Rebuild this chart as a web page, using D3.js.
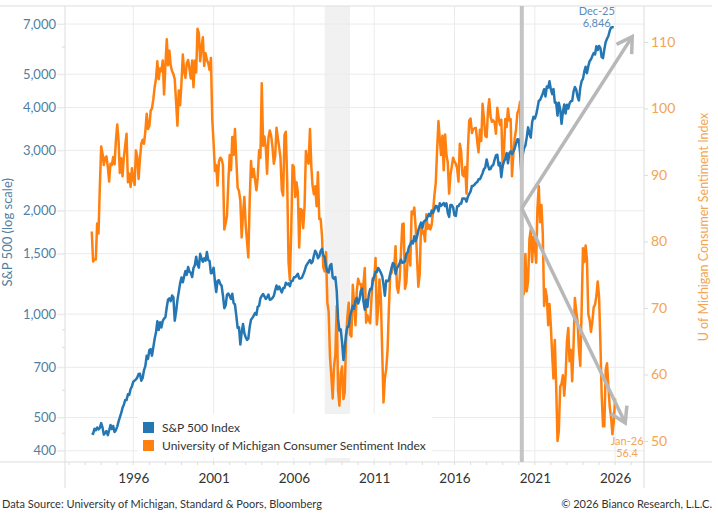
<!DOCTYPE html>
<html>
<head>
<meta charset="utf-8">
<script src="https://cdn.jsdelivr.net/npm/d3@7"></script>
<style>
    body { margin: 0; background: #fff; }
    svg { display: block; font-family: Lato, "Open Sans", sans-serif; }
</style>
</head>
<body>
<svg id="chart" width="718" height="517"></svg>
<script>
// month-end S&P 500 closes, first value is Jun-1993
var spxStart = new Date(1993, 5, 1);
var spxClose = [
    450.5, 448.1, 463.6, 458.9, 467.8, 461.8, 466.5,
    481.6, 467.1, 445.8, 450.9, 456.5, 444.3, 458.3, 475.5, 462.7, 472.4, 453.7, 459.3,
    470.4, 487.4, 500.7, 514.7, 533.4, 544.8, 562.1, 561.9, 584.4, 581.5, 605.4, 615.9,
    636.0, 640.4, 645.5, 654.2, 669.1, 670.6, 639.9, 652.0, 687.3, 705.3, 757.0, 740.7,
    786.2, 790.8, 757.1, 801.3, 848.3, 885.1, 954.3, 899.5, 947.3, 914.6, 955.4, 970.4,
    980.3, 1049.3, 1101.8, 1111.8, 1090.8, 1133.8, 1120.7, 957.3, 1017.0, 1098.7, 1163.6, 1229.2,
    1279.6, 1238.3, 1286.4, 1335.2, 1301.8, 1372.7, 1328.7, 1320.4, 1282.7, 1362.9, 1388.9, 1469.3,
    1394.5, 1366.4, 1498.6, 1452.4, 1420.6, 1454.6, 1430.8, 1517.7, 1436.5, 1429.4, 1315.2, 1320.3,
    1366.0, 1239.9, 1160.3, 1249.5, 1255.8, 1224.4, 1211.2, 1133.6, 1040.9, 1059.8, 1139.5, 1148.1,
    1130.2, 1106.7, 1147.4, 1076.9, 1067.1, 989.8, 911.6, 916.1, 815.3, 885.8, 936.3, 879.8,
    855.7, 841.2, 848.2, 916.9, 963.6, 974.5, 990.3, 1008.0, 996.0, 1050.7, 1058.2, 1111.9,
    1131.1, 1144.9, 1126.2, 1107.3, 1120.7, 1140.8, 1101.7, 1104.2, 1114.6, 1130.2, 1173.8, 1211.9,
    1181.3, 1203.6, 1180.6, 1156.9, 1191.5, 1191.3, 1234.2, 1220.3, 1228.8, 1207.0, 1249.5, 1248.3,
    1280.1, 1280.7, 1294.9, 1310.6, 1270.1, 1270.2, 1276.7, 1303.8, 1335.9, 1377.9, 1400.6, 1418.3,
    1438.2, 1406.8, 1420.9, 1482.4, 1530.6, 1503.4, 1455.3, 1474.0, 1526.8, 1549.4, 1481.1, 1468.4,
    1378.6, 1330.6, 1322.7, 1385.6, 1400.4, 1280.0, 1267.4, 1282.8, 1166.4, 968.8, 896.2, 903.3,
    825.9, 735.1, 797.9, 872.8, 919.1, 919.3, 987.5, 1020.6, 1057.1, 1036.2, 1095.6, 1115.1,
    1073.9, 1104.5, 1169.4, 1186.7, 1089.4, 1030.7, 1101.6, 1049.3, 1141.2, 1183.3, 1180.6, 1257.6,
    1286.1, 1327.2, 1325.8, 1363.6, 1345.2, 1320.6, 1292.3, 1218.9, 1131.4, 1253.3, 1247.0, 1257.6,
    1312.4, 1365.7, 1408.5, 1397.9, 1310.3, 1362.2, 1379.3, 1406.6, 1440.7, 1412.2, 1416.2, 1426.2,
    1498.1, 1514.7, 1569.2, 1597.6, 1630.7, 1606.3, 1685.7, 1633.0, 1681.6, 1756.5, 1805.8, 1848.4,
    1782.6, 1859.5, 1872.3, 1884.0, 1923.6, 1960.2, 1930.7, 2003.4, 1972.3, 2018.1, 2067.6, 2058.9,
    1995.0, 2104.5, 2067.9, 2085.5, 2107.4, 2063.1, 2103.8, 1972.2, 1920.0, 2079.4, 2080.4, 2043.9,
    1940.2, 1932.2, 2059.7, 2065.3, 2097.0, 2098.9, 2173.6, 2171.0, 2168.3, 2126.2, 2198.8, 2238.8,
    2278.9, 2363.6, 2362.7, 2384.2, 2411.8, 2423.4, 2470.3, 2471.7, 2519.4, 2575.3, 2647.6, 2673.6,
    2823.8, 2713.8, 2640.9, 2648.1, 2705.3, 2718.4, 2816.3, 2901.5, 2914.0, 2711.7, 2760.2, 2506.9,
    2704.1, 2784.5, 2834.4, 2945.8, 2752.1, 2941.8, 2980.4, 2926.5, 2976.7, 3037.6, 3141.0, 3230.8,
    3225.5, 2954.2, 2584.6, 2912.4, 3044.3, 3100.3, 3271.1, 3500.3, 3363.0, 3270.0, 3621.6, 3756.1,
    3714.2, 3811.2, 3972.9, 4181.2, 4204.1, 4297.5, 4395.3, 4522.7, 4307.5, 4605.4, 4567.0, 4766.2,
    4515.6, 4373.9, 4530.4, 4131.9, 4132.2, 3785.4, 4130.3, 3955.0, 3585.6, 3872.0, 4080.1, 3839.5,
    4076.6, 3970.2, 4109.3, 4169.5, 4179.8, 4450.4, 4589.0, 4507.7, 4288.1, 4193.8, 4567.8, 4769.8,
    4845.7, 5096.3, 5254.4, 5035.7, 5277.5, 5460.5, 5522.3, 5648.4, 5762.5, 5705.5, 6032.4, 5881.6,
    6040.5, 5954.5, 5611.9, 5569.1, 5911.7, 6205.0, 6339.4, 6460.3, 6688.5, 6840.2, 6849.1, 6846.0
];

// University of Michigan consumer sentiment, first value is Jun-1993
var umichStart = new Date(1993, 5, 1);
var umichSentiment = [
    81.5, 77.0, 77.3, 77.3, 82.7, 81.2, 88.2,
    94.3, 93.2, 91.5, 92.6, 92.8, 91.2, 89.0, 91.7, 91.5, 92.7, 91.6, 95.1,
    97.6, 95.1, 90.3, 92.5, 89.8, 92.7, 94.4, 96.2, 88.9, 90.2, 88.2, 91.0,
    89.3, 88.5, 93.7, 92.7, 89.4, 92.4, 94.7, 95.3, 94.7, 96.5, 99.2, 96.9,
    97.4, 99.7, 100.0, 101.4, 103.2, 104.5, 107.1, 104.4, 106.0, 105.6, 107.2, 102.1,
    106.6, 110.4, 106.5, 108.7, 106.5, 105.6, 105.2, 104.4, 100.9, 97.4, 102.7, 100.5,
    103.9, 108.1, 105.7, 104.6, 106.8, 107.3, 106.0, 104.5, 107.2, 103.2, 107.2, 105.4,
    112.0, 111.3, 107.1, 109.2, 110.7, 106.4, 108.3, 107.3, 106.8, 105.8, 107.6, 98.4,
    94.7, 90.6, 91.5, 88.4, 92.0, 92.6, 92.4, 91.5, 81.8, 82.7, 83.9, 88.8,
    93.0, 90.7, 95.7, 93.0, 96.9, 92.4, 88.1, 87.6, 86.1, 80.6, 84.2, 86.7,
    82.4, 79.9, 77.6, 86.0, 92.1, 89.7, 90.9, 89.3, 87.7, 89.6, 93.7, 92.6,
    103.8, 94.4, 95.8, 94.2, 90.2, 95.6, 96.7, 95.9, 94.2, 91.7, 92.8, 97.1,
    95.5, 94.1, 92.6, 87.7, 86.9, 96.0, 96.5, 89.1, 76.9, 74.2, 81.6, 91.5,
    91.2, 86.7, 88.9, 87.4, 79.1, 84.9, 84.7, 82.0, 85.4, 93.6, 92.1, 91.7,
    96.9, 91.3, 88.4, 87.1, 88.3, 85.3, 90.4, 83.4, 83.4, 80.9, 76.1, 75.5,
    78.4, 70.8, 69.5, 62.6, 59.8, 56.4, 61.2, 63.0, 70.3, 57.6, 55.3, 60.1,
    61.2, 56.3, 57.3, 65.1, 68.7, 70.8, 66.0, 65.7, 73.5, 70.6, 67.4, 72.5,
    74.4, 73.6, 73.6, 72.2, 73.6, 76.0, 67.8, 68.9, 68.2, 67.7, 71.6, 74.5,
    74.2, 77.5, 67.5, 69.8, 74.3, 71.5, 63.7, 55.8, 59.5, 60.8, 63.7, 69.9,
    75.0, 75.3, 76.2, 76.4, 79.3, 73.2, 72.3, 74.3, 78.3, 82.6, 82.7, 72.9,
    73.8, 77.6, 78.6, 76.4, 84.5, 84.1, 85.1, 82.1, 77.5, 73.2, 75.1, 82.5,
    81.2, 81.6, 80.0, 84.1, 81.9, 82.5, 81.8, 82.5, 84.6, 86.9, 88.8, 93.6,
    98.1, 95.4, 93.0, 95.9, 90.7, 96.1, 93.1, 91.9, 87.2, 90.0, 91.3, 92.6,
    92.0, 91.7, 91.0, 89.0, 94.7, 93.5, 90.0, 89.8, 91.2, 87.2, 93.8, 98.2,
    98.5, 96.3, 96.9, 97.0, 97.1, 95.0, 93.4, 96.8, 95.1, 100.7, 98.5, 95.9,
    95.7, 99.7, 101.4, 98.8, 98.0, 98.2, 97.9, 96.2, 100.1, 98.6, 97.5, 98.3,
    91.2, 93.8, 98.4, 97.2, 100.0, 98.2, 98.4, 89.8, 93.2, 95.5, 96.8, 99.3,
    99.8, 101.0, 89.1, 71.8, 72.3, 78.1, 72.5, 74.1, 80.4, 81.8, 76.9, 80.7,
    79.0, 76.8, 84.9, 88.3, 82.9, 85.5, 81.2, 70.3, 72.8, 71.7, 67.4, 70.6,
    67.2, 62.8, 59.4, 65.2, 58.4, 50.0, 51.5, 58.2, 58.6, 59.9, 56.8, 59.7,
    64.9, 67.0, 62.0, 63.7, 59.0, 64.4, 71.5, 69.5, 67.9, 63.8, 61.3, 69.7,
    79.0, 76.9, 79.4, 77.2, 69.1, 68.2, 66.4, 67.9, 70.1, 70.5, 71.8, 74.0,
    71.7, 64.7, 57.0, 52.2, 52.2, 60.7, 61.7, 58.2, 55.1, 53.6, 51.0, 52.9,
    56.4
];

var spxTicks = [400, 500, 700, 1000, 1500, 2000, 3000, 4000, 5000, 7000];
var spxMinorTicks = [450, 600, 800, 900, 6000];
var umichTicks = [50, 60, 70, 80, 90, 100, 110];
var yearTicks = [1996, 2001, 2006, 2011, 2016, 2021, 2026];

var recession = [new Date(2007, 11, 1), new Date(2009, 5, 30)];
var covidDate = new Date(2020, 2, 11);
var arrowFrom = { date: new Date(2020, 2, 11), value: 85 };
var arrowTo = [
    { date: new Date(2027, 0, 25), value: 110.8 },
    { date: new Date(2026, 7, 20), value: 52.7 }
];
var lastSpx = { lines: ["Dec-25", "6,846"] };
var lastUmich = { lines: ["Jan-26", "56.4"] };

var BLUE = "#2477b3";
var ORANGE = "#ff800e";
var BLUE_TEXT = "#4f7fa3";
var ORANGE_TEXT = "#f2a552";
var GRID = "#ebebeb";
var FRAME = "#dddddd";
var ARROW = "#b8b8b8";

var plot = { left: 65, right: 644, top: 6, bottom: 462 };

var svg = d3.select("#chart");

function monthSeries(start, values) {
    return values.map(function(v, i) {
        return { date: d3.timeMonth.offset(start, i), value: v };
    });
}

var spx = monthSeries(spxStart, spxClose);
var umich = monthSeries(umichStart, umichSentiment);

var x = d3.scaleTime()
    .domain([new Date(1991, 9, 1), new Date(2027, 9, 20)])
    .range([plot.left, plot.right]);
var yL = d3.scaleLog().domain([371, 7900]).range([plot.bottom, plot.top]);
var yR = d3.scaleLinear().domain([46.84, 115.41]).range([plot.bottom, plot.top]);

function yearDate(y) { return new Date(y, 0, 1); }

svg.append("defs").append("clipPath").attr("id", "clip")
    .append("rect")
    .attr("x", plot.left).attr("y", plot.top)
    .attr("width", plot.right - plot.left).attr("height", plot.bottom - plot.top);

// recession band
svg.append("rect")
    .attr("x", x(recession[0]))
    .attr("y", plot.top)
    .attr("width", x(recession[1]) - x(recession[0]))
    .attr("height", plot.bottom - plot.top)
    .attr("fill", "#f1f1f1");

// horizontal grid from the log axis
svg.append("g")
    .selectAll("line").data(spxTicks).join("line")
    .attr("x1", plot.left - 8).attr("x2", plot.right)
    .attr("y1", function(d) { return yL(d); })
    .attr("y2", function(d) { return yL(d); })
    .attr("stroke", GRID);

// vertical grid at labelled years
svg.append("g")
    .selectAll("line").data(yearTicks).join("line")
    .attr("x1", function(d) { return x(yearDate(d)); })
    .attr("x2", function(d) { return x(yearDate(d)); })
    .attr("y1", plot.top).attr("y2", plot.bottom)
    .attr("stroke", GRID);

// frame lines
svg.append("line").attr("x1", 0).attr("x2", 712).attr("y1", plot.top).attr("y2", plot.top).attr("stroke", FRAME);
svg.append("line").attr("x1", 0).attr("x2", 712).attr("y1", plot.bottom).attr("y2", plot.bottom).attr("stroke", FRAME);
svg.append("line").attr("x1", plot.left).attr("x2", plot.left).attr("y1", plot.top).attr("y2", 488).attr("stroke", FRAME);
svg.append("line").attr("x1", plot.right).attr("x2", plot.right).attr("y1", plot.top).attr("y2", 488).attr("stroke", FRAME);

// left axis labels
var left = svg.append("g").attr("transform", "translate(" + plot.left + ",0)")
    .call(d3.axisLeft(yL).tickValues(spxTicks).tickFormat(d3.format(",")).tickSize(8).tickPadding(1));
left.select(".domain").remove();
left.selectAll(".tick line").attr("stroke", GRID);
left.selectAll("text").attr("fill", BLUE_TEXT).style("font-size", "13px").style("font-family", "Lato");

svg.append("g")
    .selectAll("line").data(spxMinorTicks).join("line")
    .attr("x1", plot.left - 3).attr("x2", plot.left)
    .attr("y1", function(d) { return yL(d); })
    .attr("y2", function(d) { return yL(d); })
    .attr("stroke", FRAME);

// right axis
var right = svg.append("g").attr("transform", "translate(" + plot.right + ",0)")
    .call(d3.axisRight(yR).tickValues(umichTicks).tickSize(4).tickPadding(3));
right.select(".domain").remove();
right.selectAll(".tick line").attr("stroke", FRAME);
right.selectAll("text").attr("fill", ORANGE_TEXT).style("font-size", "14px").style("font-family", "Lato");

// bottom axis: yearly minor ticks, labels every five years
svg.append("g")
    .selectAll("line").data(d3.range(1992, 2028)).join("line")
    .attr("x1", function(d) { return x(yearDate(d)); })
    .attr("x2", function(d) { return x(yearDate(d)); })
    .attr("y1", plot.bottom).attr("y2", plot.bottom + 3)
    .attr("stroke", FRAME);

var bottom = svg.append("g").attr("transform", "translate(0," + plot.bottom + ")")
    .call(d3.axisBottom(x).tickValues(yearTicks.map(yearDate)).tickFormat(d3.timeFormat("%Y")).tickSize(0).tickPadding(11));
bottom.select(".domain").remove();
bottom.selectAll("text").attr("fill", "#333").style("font-size", "13.5px").style("font-family", "Lato");

// axis titles
svg.append("text")
    .attr("transform", "translate(12," + (yL(1000) + yL(3000)) / 2 + ") rotate(-90)")
    .attr("text-anchor", "middle")
    .attr("fill", BLUE_TEXT)
    .style("font-size", "13px")
    .text("S&P 500 (log scale)");

svg.append("text")
    .attr("transform", "translate(708,227) rotate(-90)")
    .attr("text-anchor", "middle")
    .attr("fill", ORANGE_TEXT)
    .style("font-size", "12.5px")
    .text("U of Michigan Consumer Sentiment Index");

// series
var lines = svg.append("g").attr("clip-path", "url(#clip)");
lines.append("path")
    .datum(umich)
    .attr("fill", "none")
    .attr("stroke", ORANGE)
    .attr("stroke-width", 2.5)
    .attr("stroke-linejoin", "round")
    .attr("d", d3.line().x(function(d) { return x(d.date); }).y(function(d) { return yR(d.value); }));
lines.append("path")
    .datum(spx)
    .attr("fill", "none")
    .attr("stroke", BLUE)
    .attr("stroke-width", 2.5)
    .attr("stroke-linejoin", "round")
    .attr("d", d3.line().x(function(d) { return x(d.date); }).y(function(d) { return yL(d.value); }));

// covid marker line
svg.append("line")
    .attr("x1", x(covidDate)).attr("x2", x(covidDate))
    .attr("y1", plot.top).attr("y2", plot.bottom)
    .attr("stroke", "#c4c4c4")
    .attr("stroke-width", 4);

// arrows
svg.select("defs").append("marker")
    .attr("id", "head")
    .attr("markerUnits", "userSpaceOnUse")
    .attr("viewBox", "-20 -12 24 24")
    .attr("markerWidth", 24).attr("markerHeight", 24)
    .attr("refX", 0).attr("refY", 0)
    .attr("orient", "auto")
    .append("path")
    .attr("d", "M-15,-9 L0,0 L-15,9")
    .attr("fill", "none")
    .attr("stroke", ARROW)
    .attr("stroke-width", 3.5);

svg.append("g")
    .selectAll("line").data(arrowTo).join("line")
    .attr("x1", x(arrowFrom.date)).attr("y1", yR(arrowFrom.value))
    .attr("x2", function(d) { return x(d.date); })
    .attr("y2", function(d) { return yR(d.value); })
    .attr("stroke", ARROW)
    .attr("stroke-width", 3.5)
    .attr("marker-end", "url(#head)");

// end-point labels
var spxLast = spx[spx.length - 1];
svg.append("text")
    .attr("y", yL(spxLast.value) - 12)
    .attr("text-anchor", "middle")
    .attr("fill", "#5a8bbd")
    .style("font-size", "11px")
    .selectAll("tspan").data(lastSpx.lines).join("tspan")
    .attr("x", x(spxLast.date) - 17)
    .attr("dy", function(d, i) { return i ? 12 : 0; })
    .text(function(d) { return d; });

var umLast = umich[umich.length - 1];
svg.append("text")
    .attr("y", yR(umLast.value) + 47)
    .attr("text-anchor", "middle")
    .attr("fill", ORANGE_TEXT)
    .style("font-size", "11px")
    .selectAll("tspan").data(lastUmich.lines).join("tspan")
    .attr("x", x(umLast.date) + 12)
    .attr("dy", function(d, i) { return i ? 12 : 0; })
    .text(function(d) { return d; });

// legend
var legendItems = [
    { label: "S&P 500 Index", color: BLUE },
    { label: "University of Michigan Consumer Sentiment Index", color: ORANGE }
];
var legend = svg.append("g").attr("transform", "translate(138,414)");
legend.append("rect").attr("width", 294).attr("height", 44).attr("fill", "#fff");
var item = legend.selectAll("g.item").data(legendItems).join("g")
    .attr("class", "item")
    .attr("transform", function(d, i) { return "translate(5," + (8 + i * 18) + ")"; });
item.append("rect").attr("width", 11).attr("height", 11).attr("fill", function(d) { return d.color; });
item.append("text")
    .attr("x", 19).attr("y", 10)
    .attr("fill", "#333")
    .style("font-size", "12px")
    .text(function(d) { return d.label; });

// footer
svg.append("text")
    .attr("x", 2).attr("y", 508)
    .attr("fill", "#333")
    .style("font-size", "11px")
    .text("Data Source: University of Michigan, Standard & Poors, Bloomberg");
svg.append("text")
    .attr("x", 712).attr("y", 508)
    .attr("text-anchor", "end")
    .attr("fill", "#333")
    .style("font-size", "11px")
    .text("\u00a9 2026 Bianco Research, L.L.C.");
</script>
</body>
</html>
